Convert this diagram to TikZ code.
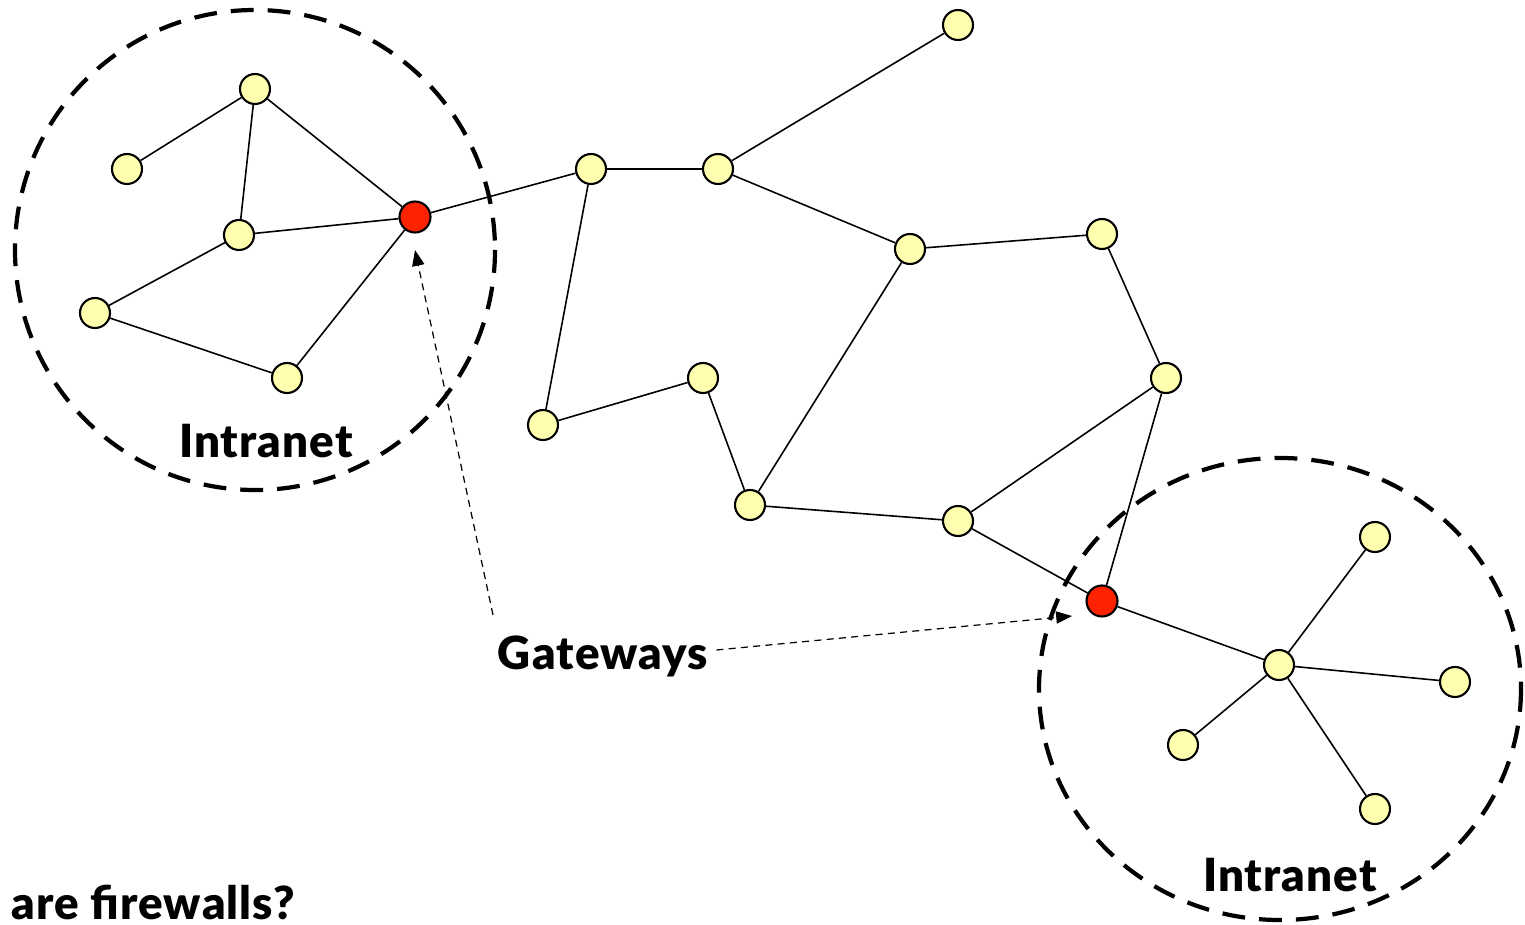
\documentclass[tikz,border=0pt]{standalone}
\usepackage{fontspec}
\setmainfont{Lato}[BoldFont={Lato Black},BoldFeatures={LetterSpace=2.5}]
\usetikzlibrary{arrows.meta}
\definecolor{nodeyellow}{RGB}{255,255,175}
\definecolor{gatered}{RGB}{255,34,0}
\begin{document}
\begin{tikzpicture}[x=0.02cm,y=-0.02cm,
  host/.style={circle,draw=black,line width=1.2pt,fill=nodeyellow,minimum size=0.6cm,inner sep=0pt},
  gate/.style={circle,draw=black,line width=1.2pt,fill=gatered,minimum size=0.62cm,inner sep=0pt},
  link/.style={line width=0.9pt},
  zone/.style={line width=2.4pt,dash pattern=on 13pt off 8pt},
  note/.style={line width=0.7pt,dash pattern=on 4pt off 3pt,-{Triangle[length=9pt,width=7pt]}},
  lbl/.style={font=\bfseries\fontsize{26}{30}\selectfont,inner sep=0pt}]
\useasboundingbox (0,0) rectangle (1525,925);
% zones
\draw[zone] (255,250) ellipse [x radius=240,y radius=240];
\draw[zone] (1280,689) ellipse [x radius=241,y radius=231];
% nodes
\node[host] (a1) at (255,89) {};
\node[host] (a2) at (127,169) {};
\node[host] (a3) at (239,235) {};
\node[host] (a4) at (95,313) {};
\node[host] (a5) at (287,378) {};
\node[gate] (g1) at (415,217) {};
\node[host] (m1) at (591,169) {};
\node[host] (m2) at (718,169) {};
\node[host] (m3) at (958,25) {};
\node[host] (m4) at (910,249) {};
\node[host] (m5) at (1102,234) {};
\node[host] (m6) at (1166,378) {};
\node[host] (m7) at (543,425) {};
\node[host] (m8) at (703,378) {};
\node[host] (m9) at (750,505) {};
\node[host] (m10) at (958,521) {};
\node[gate] (g2) at (1102,601) {};
\node[host] (r0) at (1279,665) {};
\node[host] (r1) at (1375,537) {};
\node[host] (r2) at (1455,682) {};
\node[host] (r3) at (1183,745) {};
\node[host] (r4) at (1375,809) {};
% links
\foreach \u/\v in {a2/a1,a1/a3,a1/g1,a3/g1,a3/a4,a4/a5,a5/g1,
  g1/m1,m1/m2,m2/m3,m2/m4,m4/m5,m5/m6,m1/m7,m7/m8,m8/m9,m9/m4,m9/m10,m10/m6,m10/g2,m6/g2,
  g2/r0,r0/r1,r0/r2,r0/r3,r0/r4}
  \draw[link] (\u) -- (\v);
% labels
\node[lbl] (int1) at (266,441) {Intranet};
\node[lbl] (int2) at (1290,875) {Intranet};
\node[lbl] (gw) at (603,656) {Gateways};
\node[lbl,anchor=west] (fw) at (11,902) {are firewalls?};
\coordinate (t1) at (415,250);
\coordinate (t2) at (1072,616);
\coordinate (s1) at (493,615);
\draw[note] (s1) -- (t1);
\draw[note] (gw.east) ++(8,-6) -- (t2);
\end{tikzpicture}
\end{document}
